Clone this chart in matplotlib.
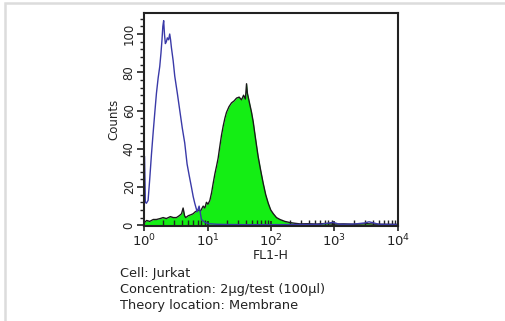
import matplotlib.pyplot as plt
from matplotlib.ticker import LogLocator, MultipleLocator
from matplotlib.patches import Rectangle
import numpy as np

# ---------------------------
# data (FL1-H vs counts)
# ---------------------------
iso_x = [1.0, 1.02, 1.05, 1.09, 1.16, 1.23, 1.31, 1.39, 1.48, 1.57, 1.67, 1.77, 1.85, 1.92,
         1.98, 2.04, 2.10, 2.17, 2.25, 2.33, 2.44, 2.54, 2.62, 2.70, 2.88, 3.05, 3.35, 3.66,
         4.0, 4.38, 4.77, 5.15, 5.58, 5.95, 6.30, 6.87, 7.38, 8.03, 9.1, 10.5, 14, 20, 40,
         100, 300, 600, 950, 1200, 2000, 3000, 3500, 5000, 10000]
iso_y = [36, 36, 12, 11.5, 13, 24, 37, 48, 59, 69, 77, 83, 90, 97,
         104, 107, 100, 95, 96, 98, 97, 100, 97, 93, 86, 78, 69, 60,
         51, 43, 32, 26, 20, 15, 11.5, 7, 10, 3, 1.5, 0.8, 0.5, 0.4, 0.3,
         0.3, 0.4, 0.5, 1.5, 0.5, 0.6, 1.2, 1.8, 0.5, 0.4]

ab_x = [1.0, 1.02, 1.1, 1.23, 1.4, 1.57, 1.8, 2.0, 2.25, 2.6, 2.9, 3.24, 3.6, 3.9, 4.13,
        4.35, 4.54, 5.0, 5.5, 5.94, 6.4, 7.13, 7.8, 8.55, 9.1, 9.62, 10.2, 10.9, 11.6,
        12.3, 13.1, 13.9, 14.7, 15.6, 16.6, 17.7, 18.8, 19.9, 21.8, 23.9, 26.2, 28.7,
        31.5, 34.4, 37.0, 39.5, 41.2, 42.5, 43.8, 46.5, 49.4, 52.5, 55.6, 59.0, 62.7,
        68.5, 75.3, 82.5, 90.5, 99, 108.8, 122, 138.4, 165, 199, 240, 286, 380, 527,
        700, 968, 1400, 2000, 3230, 5000, 10000]
ab_y = [1.5, 1.4, 2.5, 2, 3, 3, 3.5, 4, 3.5, 4.5, 4, 4, 5, 6, 9,
        5, 4, 5, 5.5, 6, 7, 8, 7.5, 10, 9, 12, 11, 13, 17,
        22, 27, 31, 35, 41, 47, 52, 56, 59, 62, 64, 65, 66.5,
        67, 65.6, 68, 66, 74, 69, 67, 63, 59, 54, 48, 42, 36,
        29, 22, 16, 11.5, 8, 6, 4, 3, 2, 1.4, 1, 0.7, 0.8, 0.6,
        0.9, 0.6, 0.7, 0.5, 0.8, 0.5, 0.4]

x_label = "FL1-H"
y_label = "Counts"
info_lines = ["Cell: Jurkat",
              "Concentration: 2\u00b5g/test (100\u00b5l)",
              "Theory location: Membrane"]

# ---------------------------
# figure
# ---------------------------
fig = plt.figure(figsize=(5.06, 3.21), dpi=100)

# light grey frame of the original panel
fig.add_artist(Rectangle((5.5 / 506, -0.1), 1.2, 1.1 - 2.5 / 321, transform=fig.transFigure,
                         fill=False, edgecolor="#dcdcdc", linewidth=1.8))

ax = fig.add_axes([144 / 506, 1 - 226 / 321, 254 / 506, 213 / 321])

ax.fill_between(ab_x, ab_y, 0, color="#14ee14", linewidth=0)
ax.plot(ab_x, ab_y, color="#1a1a1a", linewidth=1.0)
ax.plot(iso_x, iso_y, color="#3a3aa8", linewidth=1.0)

ax.set_xscale("log")
ax.set_xlim(1, 10000)
ax.set_ylim(-0.4, 111)

ax.xaxis.set_major_locator(LogLocator(base=10, numticks=10))
ax.xaxis.set_minor_locator(LogLocator(base=10, subs=np.arange(2, 10), numticks=10))
ax.yaxis.set_major_locator(MultipleLocator(20))
ax.yaxis.set_minor_locator(MultipleLocator(4))

ax.tick_params(axis="x", which="major", direction="inout", length=7, width=1.2,
               labelsize=9.5, pad=1, colors="#222222")
ax.tick_params(axis="x", which="minor", direction="in", length=4, width=1.0, colors="#222222")
ax.tick_params(axis="y", which="major", direction="out", length=5, width=1.2,
               labelsize=8.5, pad=1, colors="#222222", labelrotation=90)
ax.tick_params(axis="y", which="minor", direction="out", length=3, width=1.0, colors="#222222")
for lbl in ax.get_yticklabels():
    lbl.set_va("center")

for sp in ax.spines.values():
    sp.set_linewidth(1.5)
    sp.set_color("#222222")

ax.set_xlabel(x_label, fontsize=9, labelpad=0, color="#222222")
ax.set_ylabel(y_label, fontsize=8.5, labelpad=2, color="#222222")

for i, line in enumerate(info_lines):
    fig.text(120 / 506, 1 - (273 + 16 * i) / 321, line, fontsize=9.3, va="center",
             ha="left", color="#222222")

fig.savefig("out.png", dpi=100)
